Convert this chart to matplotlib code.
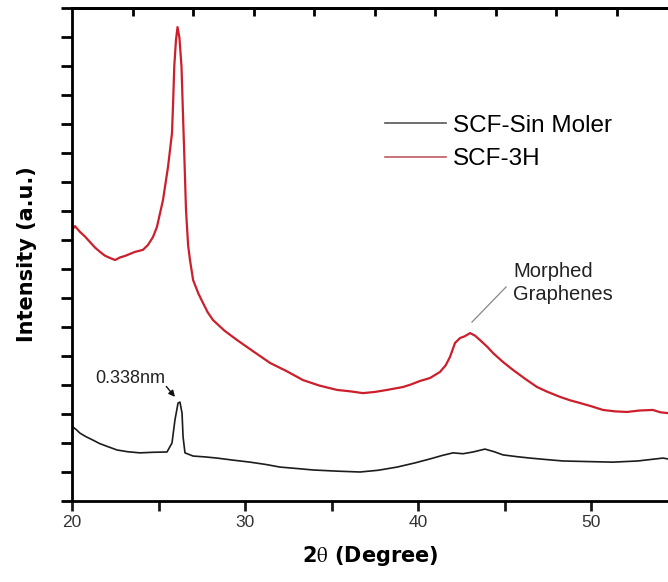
import matplotlib
matplotlib.use('Agg')
import matplotlib.pyplot as plt
import numpy as np

plt.rcParams['font.family'] = ['Liberation Sans', 'DejaVu Sans']
plt.rcParams['mathtext.fontset'] = 'stix'

# XRD patterns (2theta in degrees, intensity in a.u.)
two_theta_3h = [20.0, 20.17, 20.46, 20.75, 21.04, 21.33, 21.62, 21.9, 22.2, 22.49, 22.78,
                23.06, 23.35, 23.64, 24.10, 24.39, 24.68, 24.91, 25.26, 25.55, 25.78,
                25.85, 25.91, 26.01, 26.10, 26.21, 26.33, 26.42, 26.50, 26.59, 26.71,
                26.82, 27.0, 27.3, 27.57, 27.85, 28.15, 28.8, 29.54, 30.5, 31.45, 32.4,
                33.35, 34.3, 35.32, 36.1, 36.82, 37.5, 38.21, 39.13, 39.6, 40.12, 40.69,
                41.27, 41.6, 41.85, 42.14, 42.43, 42.7, 43.01, 43.3, 43.58, 44.0, 44.34,
                44.9, 45.49, 46.2, 46.88, 47.5, 48.21, 48.8, 49.36, 50.0, 50.69, 51.4,
                52.08, 52.8, 53.58, 54.0, 54.45]
intensity_3h = [934, 948, 928, 912, 893, 874, 859, 846, 838, 831, 840,
                845, 852, 859, 866, 883, 910, 945, 1038, 1152, 1269,
                1383, 1497, 1590, 1634, 1597, 1497, 1324, 1176, 1003, 883,
                831, 762, 716, 683, 650, 624, 588, 555, 515, 476, 448,
                417, 398, 383, 378, 372, 376, 383, 393, 402, 414, 424,
                445, 468, 497, 545, 562, 568, 579, 570, 555, 532, 510,
                480, 452, 421, 393, 376, 359, 347, 338, 327, 314, 309,
                307, 312, 314, 306, 303]

two_theta_sm = [20.06, 20.25, 20.46, 20.8, 21.21, 21.6, 22.0, 22.60, 23.2, 23.93, 24.7,
                25.49, 25.78, 25.95, 26.13, 26.24, 26.36, 26.42, 26.53, 27.0, 27.7,
                28.38, 29.3, 30.29, 31.2, 32.02, 33.0, 33.93, 35.3, 36.65, 37.7,
                38.79, 39.8, 40.69, 41.4, 42.02, 42.6, 43.18, 43.87, 44.4, 44.91,
                45.7, 46.47, 47.4, 48.38, 49.8, 51.27, 52.7, 54.16, 54.45]
intensity_sm = [255, 246, 234, 222, 210, 198, 189, 176, 170, 166, 168,
                169, 200, 279, 338, 341, 303, 221, 166, 155, 152,
                148, 141, 134, 126, 117, 112, 107, 103, 100, 106,
                117, 131, 145, 157, 166, 163, 169, 179, 170, 159,
                153, 148, 143, 138, 136, 134, 138, 148, 145]

x_ticks = [20, 30, 40, 50]
x_minor = [25, 35, 45]

fig = plt.figure(figsize=(6.68, 5.82), dpi=100)
ax = fig.add_axes([72 / 668, 81 / 582, 596 / 668, 493 / 582])

ax.plot(two_theta_sm, intensity_sm, color='#1c1c1c', lw=1.2, label='SCF-Sin Moler')
ax.plot(two_theta_3h, intensity_3h, color='#cc1f2b', lw=1.6, label='SCF-3H')

ax.set_xlim(20, 54.45)
ax.set_ylim(0, 1700)

ax.set_xticks(x_ticks)
ax.set_xticks(x_minor, minor=True)
ax.set_yticks(np.arange(0, 1701, 100))
ax.set_yticklabels([])
ax.tick_params(axis='x', which='both', direction='out', length=7, width=2,
               labelsize=12.5, pad=3, colors='#1a1a1a', labelcolor='#333333')
ax.tick_params(axis='y', which='both', direction='out', length=8, width=2)

for side in ['left', 'bottom', 'top']:
    ax.spines[side].set_linewidth(2)
ax.spines['right'].set_visible(False)

# top axis carries its own inward ticks
top = ax.twiny()
top.set_xlim(ax.get_xlim())
top.set_xticks(np.arange(23.5, 52, 3.5))
top.set_xticklabels([])
top.tick_params(axis='x', direction='in', length=6, width=2)
top.spines['right'].set_visible(False)
top.spines['top'].set_linewidth(2)

ax.set_xlabel(r'2$\mathrm{\theta}$ (Degree)', family='DejaVu Sans', fontweight='bold',
              fontsize=15, labelpad=10)
ax.set_ylabel('Intensity (a.u.)', family='DejaVu Sans', fontweight='bold',
              fontsize=15, labelpad=14)

leg = ax.legend(loc='upper left', bbox_to_anchor=(0.525, 0.783), frameon=False,
                fontsize=17.5, handlelength=2.5, handletextpad=0.3, labelspacing=0.47,
                borderpad=0, borderaxespad=0)
leg.get_lines()[0].set_color('#555555')
leg.get_lines()[1].set_color('#c45a66')
for line in leg.get_lines():
    line.set_linewidth(1.2)

ax.annotate('0.338nm', xy=(25.95, 359), xytext=(21.33, 421), fontsize=13,
            va='center', ha='left', color='#222222')
ax.annotate('', xy=(25.95, 359), xytext=(25.45, 395),
            arrowprops=dict(arrowstyle='-|>', color='#111111', lw=1,
                            mutation_scale=9, shrinkA=0, shrinkB=0))

ax.text(45.49, 752, 'Morphed\nGraphenes', fontsize=14.5, va='center', ha='left',
        color='#222222', linespacing=1.25)
ax.plot([43.12, 45.09], [617, 738], color='#888888', lw=0.9)

fig.savefig('out.png', dpi=100)
